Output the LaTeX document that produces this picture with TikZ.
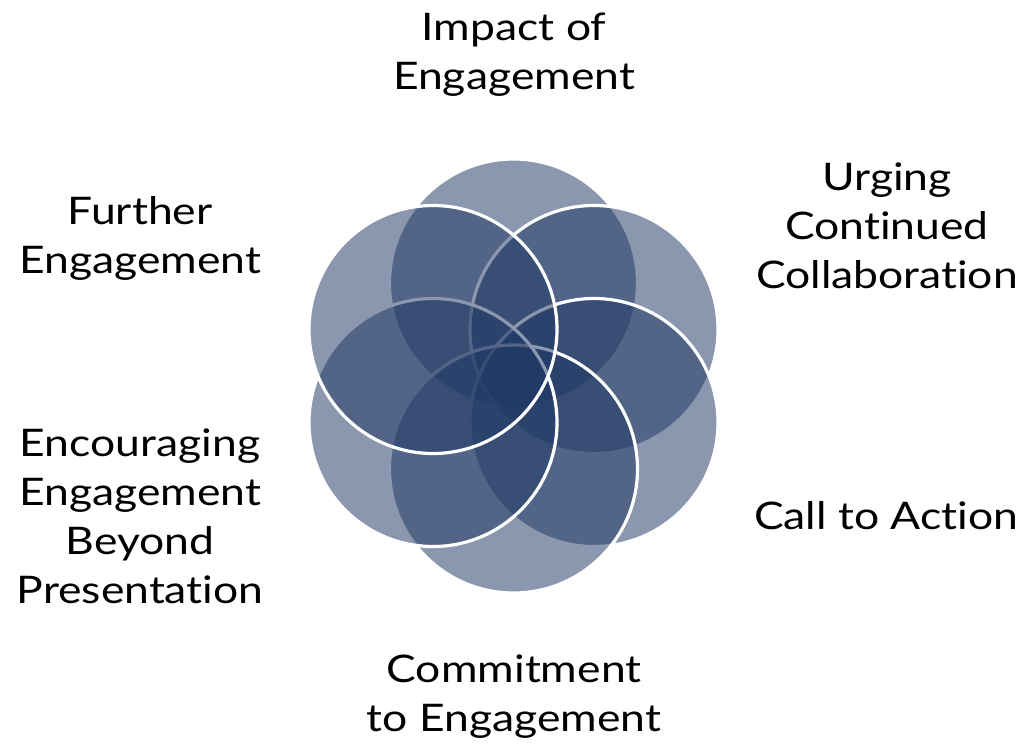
\documentclass[tikz,border=0pt]{standalone}
\usepackage{fontspec}
\setmainfont{Lato}[FakeStretch=1.17, Ligatures={NoCommon,NoRare,NoContextual}]
\definecolor{ringblue}{RGB}{31,56,100}
\tikzset{
  ring/.style={circle, minimum size=248pt, inner sep=0pt, outer sep=0pt,
    fill=ringblue, fill opacity=0.52, draw=white, draw opacity=1, line width=3.2pt},
  lbl/.style={align=center, inner sep=0pt, text=black,
    font=\fontsize{38}{49}\selectfont}
}
\begin{document}
\begin{tikzpicture}[x=1pt,y=-1pt]
\useasboundingbox (0,0) rectangle (1028,750);
\node[ring] (top) at (513.5,283) {};
\node[ring] (ur) at (594.0,329.5) {};
\node[ring] (lr) at (594.0,422.5) {};
\node[ring] (bot) at (513.5,469) {};
\node[ring] (ll) at (433.0,422.5) {};
\node[ring] (ul) at (433.0,329.5) {};
\node[lbl] (ltop) at (514,55) {Impact of\\Engagement};
\node[lbl] (lur) at (887,226) {Urging\\Continued\\Collaboration};
\node[lbl] (llr) at (886,516) {Call to Action};
\node[lbl] (lbot) at (514,697) {Commitment\\to Engagement};
\node[lbl] (lll) at (140,516) {Encouraging\\Engagement\\Beyond\\Presentation};
\node[lbl] (lul) at (140,238) {Further\\Engagement};
\end{tikzpicture}
\end{document}
